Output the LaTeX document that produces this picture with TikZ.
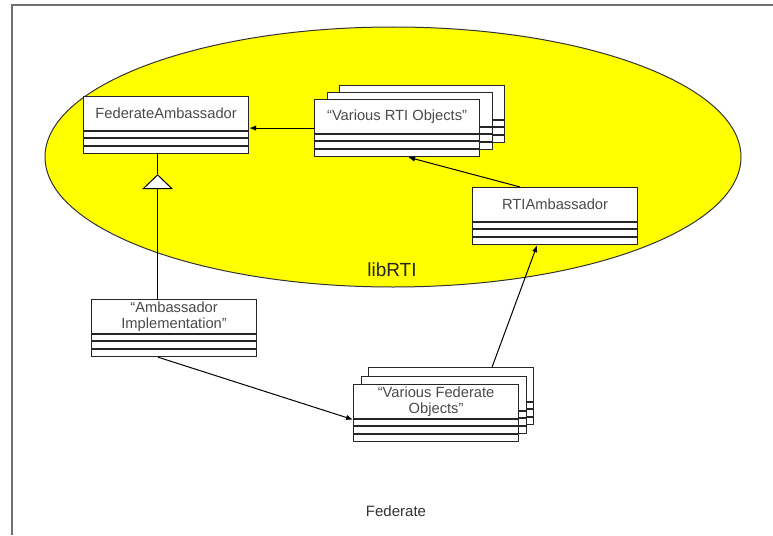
\documentclass[tikz,border=0pt]{standalone}
\usepackage{fontspec}
\setmainfont{Liberation Sans}
\usetikzlibrary{arrows.meta,calc,shapes.geometric}

\definecolor{libfill}{HTML}{FFFF00}
\definecolor{txtgray}{HTML}{4A4A4A}
\definecolor{framegray}{HTML}{707070}

\tikzset{
  umlbox/.style={draw=black!85, line width=1.2pt, fill=white, minimum width=165pt,
                 minimum height=57pt, inner sep=0pt, anchor=north west},
  umltext/.style={text=txtgray, font=\fontsize{14.7}{15.5}\selectfont, align=center, inner sep=0pt},
  sepline/.style={draw=black!85, line width=1.2pt},
  assoc/.style={draw=black, line width=1pt, -{Latex[length=7pt,width=5.5pt]}},
  inherit/.style={draw=black, line width=1pt, -{Triangle[length=15pt,width=31pt,fill=white]}},
  plainline/.style={draw=black, line width=1pt},
}

% class box: name, x, y (top left), title
\newcommand\umlclass[4]{%
  \node[umlbox] (#1) at (#2,#3) {};
  \foreach \dy in {35,42,50}{%
    \draw[sepline] ($(#1.north west)+(0,\dy)$) -- ($(#1.north east)+(0,\dy)$);}
  \node[umltext] (#1-name) at ($(#1.north)+(0,17.5)$) {#4};
}

\begin{document}
\begin{tikzpicture}[x=1pt, y=-1pt]
  \useasboundingbox (0,0) rectangle (773,535);

  % federate frame (left and top edges)
  \draw[framegray, line width=2pt] (12,535) -- (12,5) -- (773,5);

  % libRTI region
  \node[ellipse, draw=black!80, line width=1pt, fill=libfill,
        minimum width=696pt, minimum height=260pt, inner sep=0pt] (librti) at (393,157) {};
  \node[text=black!85, font=\fontsize{19}{21}\selectfont] (librti-label) at (392,270) {libRTI};

  % classes
  \umlclass{fa}{83}{96}{FederateAmbassador}

  \umlclass{ro3}{339}{85}{}
  \umlclass{ro2}{327}{92}{}
  \umlclass{ro1}{314}{99}{“Various RTI Objects”}

  \umlclass{ra}{472}{187}{RTIAmbassador}

  \umlclass{ai}{91}{299}{“Ambassador\\Implementation”}

  \umlclass{fo3}{368}{367}{}
  \umlclass{fo2}{361}{376}{}
  \umlclass{fo1}{353}{384}{“Various Federate\\Objects”}

  % generalisation
  \coordinate (inh) at ($(fa.south)+(-8.5,20)$);
  \draw[plainline] (inh) -- (fa.south -| inh);
  \draw[inherit] (ai.north -| inh) -- (inh);

  % associations
  \draw[assoc] (ro1.west) -- (ro1.west -| fa.east);
  \draw[assoc] ($(ra.north)+(-35,0)$) -- ($(ro1.south)+(11,0)$);
  \draw[assoc] ($(fo3.north)+(41,0)$) -- ($(ra.south)+(-18,0)$);
  \draw[assoc] ($(ai.south)+(-16,0)$) -- ($(fo1.west)+(0,6.5)$);

  \node[text=black!80, font=\fontsize{15}{16}\selectfont] (federate-label) at (396,511) {Federate};
\end{tikzpicture}
\end{document}
